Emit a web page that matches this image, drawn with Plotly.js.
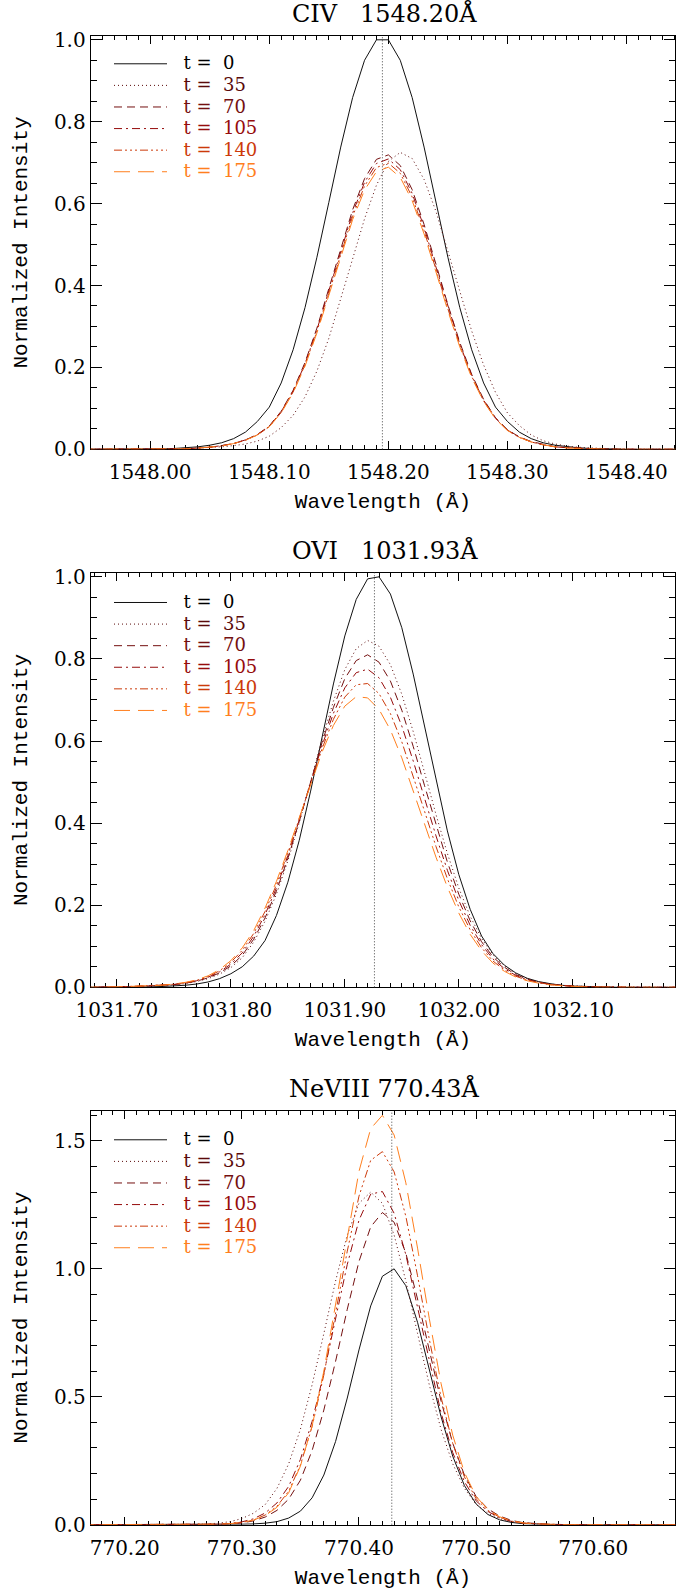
<!DOCTYPE html>
<html>
<head>
<meta charset="utf-8">
<script src="https://cdn.plot.ly/plotly-3.0.1.min.js"></script>
<style>
html,body{margin:0;padding:0;background:#fff;}
#chart{width:696px;height:1591px;}
</style>
</head>
<body>
<div id="chart"></div>
<script>
// ---------- data ----------
const timeLabels = ['t = 0', 't = 35', 't = 70', 't = 105', 't = 140', 't = 175'];
const seriesColors = ['#000000', '#5a0a0a', '#741010', '#960c0c', '#cc3a0a', '#ff7f1e'];
const panelTitles = ['CIV\u00a0\u00a0\u00a01548.20Å', 'OVI\u00a0\u00a0\u00a01031.93Å', 'NeVIII\u00a0770.43Å'];
const lineCenters = [1548.195, 1031.926, 770.428];

const civTicks = [1548.00, 1548.10, 1548.20, 1548.30, 1548.40];
const oviTicks = [1031.70, 1031.80, 1031.90, 1032.00, 1032.10];
const neTicks = [770.20, 770.30, 770.40, 770.50, 770.60];

const waveCIV = [1547.94,1547.95,1547.96,1547.97,1547.98,1547.99,1548.00,1548.01,1548.02,1548.03,
  1548.04,1548.05,1548.06,1548.07,1548.08,1548.09,1548.10,1548.11,1548.12,1548.13,
  1548.14,1548.15,1548.16,1548.17,1548.18,1548.19,1548.20,1548.21,1548.22,1548.23,
  1548.24,1548.25,1548.26,1548.27,1548.28,1548.29,1548.30,1548.31,1548.32,1548.33,
  1548.34,1548.35,1548.36,1548.37,1548.38,1548.39,1548.40,1548.41,1548.42,1548.43,
  1548.44,1548.45];
const civ_t0 = [0,0,0,0,0,0,0,0.001,0.002,0.0035,0.006,0.010,0.016,0.026,0.042,0.068,0.103,0.162,0.243,0.346,
  0.469,0.603,0.738,0.859,0.950,1.0,1.0,0.950,0.859,0.738,0.603,0.469,0.346,0.243,0.162,0.103,0.068,0.042,0.026,0.016,
  0.010,0.006,0.0035,0.002,0.001,0,0,0,0,0,0,0];
const civ_t35 = [0,0,0,0,0,0,0,0,0.001,0.002,0.003,0.004,0.006,0.009,0.013,0.020,0.032,0.053,0.083,0.128,
  0.191,0.271,0.365,0.465,0.563,0.645,0.703,0.725,0.710,0.659,0.581,0.485,0.384,0.289,0.206,0.139,0.089,0.058,0.035,0.021,
  0.013,0.008,0.005,0.003,0.002,0.001,0,0,0,0,0,0];
const civ_t70 = [0,0,0,0,0,0,0,0,0.001,0.001,0.003,0.005,0.009,0.014,0.023,0.036,0.057,0.093,0.144,0.212,
  0.296,0.392,0.492,0.585,0.661,0.708,0.719,0.693,0.634,0.549,0.452,0.353,0.261,0.183,0.122,0.077,0.048,0.030,0.019,0.012,
  0.006,0.004,0.002,0.001,0.001,0,0,0,0,0,0,0];
const civ_t105 = [0,0,0,0,0,0,0,0,0.001,0.001,0.003,0.005,0.009,0.014,0.023,0.036,0.056,0.092,0.142,0.209,
  0.292,0.386,0.485,0.577,0.652,0.698,0.709,0.683,0.625,0.542,0.445,0.348,0.257,0.180,0.120,0.076,0.047,0.030,0.018,0.011,
  0.006,0.004,0.002,0.001,0,0,0,0,0,0,0,0];
const civ_t140 = [0,0,0,0,0,0,0,0,0.001,0.001,0.003,0.005,0.008,0.014,0.022,0.035,0.055,0.090,0.140,0.206,
  0.288,0.381,0.478,0.569,0.643,0.688,0.699,0.674,0.616,0.534,0.439,0.343,0.254,0.178,0.118,0.075,0.046,0.029,0.018,0.011,
  0.006,0.004,0.002,0.001,0,0,0,0,0,0,0,0];
const civ_t175 = [0,0,0,0,0,0,0,0,0.001,0.001,0.003,0.005,0.008,0.014,0.022,0.035,0.055,0.089,0.138,0.203,
  0.284,0.376,0.471,0.561,0.633,0.678,0.689,0.664,0.607,0.526,0.433,0.338,0.250,0.175,0.117,0.074,0.046,0.029,0.018,0.011,
  0.006,0.003,0.002,0.001,0,0,0,0,0,0,0,0];

const waveOVI = [1031.67,1031.68,1031.69,1031.70,1031.71,1031.72,1031.73,1031.74,1031.75,1031.76,
  1031.77,1031.78,1031.79,1031.80,1031.81,1031.82,1031.83,1031.84,1031.85,1031.86,
  1031.87,1031.88,1031.89,1031.90,1031.91,1031.92,1031.93,1031.94,1031.95,1031.96,
  1031.97,1031.98,1031.99,1032.00,1032.01,1032.02,1032.03,1032.04,1032.05,1032.06,
  1032.07,1032.08,1032.09,1032.10,1032.11,1032.12,1032.13,1032.14,1032.15,1032.16,
  1032.17,1032.18,1032.19,1032.20];
const ovi_t0 = [0,0,0,0,0,0.0005,0.001,0.002,0.003,0.005,0.008,0.013,0.021,0.033,0.050,0.076,0.114,0.175,0.256,0.358,
  0.478,0.609,0.739,0.856,0.945,0.995,1.000,0.958,0.876,0.763,0.635,0.504,0.381,0.275,0.190,0.125,0.082,0.054,0.035,0.022,
  0.014,0.009,0.005,0.003,0.002,0.001,0,0,0,0,0,0,0,0];
const ovi_t35 = [0,0,0.0005,0.001,0.001,0.002,0.003,0.004,0.006,0.009,0.014,0.021,0.032,0.048,0.072,0.110,0.161,0.227,0.308,0.401,
  0.502,0.604,0.697,0.774,0.825,0.845,0.831,0.786,0.714,0.623,0.523,0.421,0.326,0.242,0.173,0.119,0.079,0.052,0.033,0.021,
  0.013,0.008,0.005,0.003,0.002,0.001,0.0005,0,0,0,0,0,0,0];
const ovi_t70 = [0,0,0.0005,0.001,0.001,0.002,0.003,0.004,0.0065,0.010,0.015,0.023,0.035,0.052,0.078,0.117,0.169,0.235,0.314,0.404,
  0.500,0.596,0.682,0.752,0.796,0.810,0.792,0.746,0.675,0.587,0.491,0.395,0.305,0.227,0.162,0.111,0.074,0.049,0.031,0.020,
  0.012,0.0075,0.005,0.003,0.002,0.001,0.0005,0,0,0,0,0,0,0];
const ovi_t105 = [0,0,0.0005,0.001,0.0015,0.0025,0.0035,0.0045,0.007,0.0105,0.016,0.0245,0.0375,0.0565,0.084,0.124,0.177,0.2425,0.3205,0.4075,
  0.499,0.5885,0.6675,0.7295,0.7665,0.775,0.754,0.7065,0.6365,0.5515,0.460,0.369,0.285,0.2115,0.151,0.104,0.069,0.0455,0.029,0.0185,
  0.0115,0.007,0.0045,0.0025,0.0015,0.001,0.0003,0,0,0,0,0,0,0];
const ovi_t140 = [0,0,0.0005,0.001,0.002,0.003,0.004,0.005,0.0075,0.011,0.017,0.026,0.040,0.061,0.090,0.131,0.185,0.250,0.327,0.411,
  0.4975,0.581,0.653,0.707,0.737,0.740,0.7155,0.667,0.598,0.516,0.4285,0.343,0.2645,0.196,0.140,0.0965,0.064,0.042,0.027,0.017,
  0.011,0.0065,0.004,0.002,0.001,0.0005,0,0,0,0,0,0,0,0];
const ovi_t175 = [0,0,0.0005,0.001,0.002,0.003,0.004,0.005,0.008,0.012,0.018,0.028,0.043,0.065,0.096,0.138,0.193,0.258,0.333,0.414,
  0.496,0.573,0.638,0.685,0.708,0.705,0.677,0.627,0.559,0.480,0.397,0.317,0.244,0.181,0.129,0.089,0.059,0.039,0.025,0.016,
  0.010,0.006,0.004,0.002,0.001,0.0005,0,0,0,0,0,0,0,0];

const waveNeVIII = [770.16,770.17,770.18,770.19,770.20,770.21,770.22,770.23,770.24,770.25,
  770.26,770.27,770.28,770.29,770.30,770.31,770.32,770.33,770.34,770.35,
  770.36,770.37,770.38,770.39,770.40,770.41,770.42,770.43,770.44,770.45,
  770.46,770.47,770.48,770.49,770.50,770.51,770.52,770.53,770.54,770.55,
  770.56,770.57,770.58,770.59,770.60,770.61,770.62,770.63,770.64,770.65,
  770.66,770.67,770.68];
const ne_t0 = [0,0,0,0,0,0,0,0,0,0,0,0,0,0.001,0.002,0.003,0.006,0.012,0.026,0.053,
  0.105,0.194,0.325,0.495,0.683,0.855,0.971,1.000,0.934,0.791,0.608,0.423,0.268,0.153,0.081,0.040,0.019,0.009,0.004,0.002,
  0.001,0,0,0,0,0,0,0,0,0,0,0,0];
const ne_t35 = [0,0,0,0,0,0,0,0,0,0.0007,0.0015,0.003,0.006,0.012,0.024,0.045,0.079,0.142,0.238,0.373,
  0.547,0.747,0.952,1.132,1.256,1.300,1.256,1.132,0.952,0.747,0.547,0.373,0.238,0.142,0.079,0.045,0.024,0.012,0.006,0.003,
  0.0015,0.0007,0,0,0,0,0,0,0,0,0,0,0];
const ne_t70 = [0,0,0,0,0,0,0,0,0,0,0,0.0007,0.0015,0.003,0.007,0.015,0.030,0.056,0.100,0.174,
  0.290,0.448,0.638,0.842,1.029,1.164,1.220,1.182,1.061,0.882,0.679,0.484,0.319,0.194,0.110,0.062,0.034,0.017,0.008,0.004,
  0.002,0.001,0,0,0,0,0,0,0,0,0,0,0];
const ne_t105 = [0,0,0,0,0,0,0,0,0,0,0,0.001,0.002,0.005,0.011,0.023,0.046,0.085,0.150,0.255,
  0.404,0.592,0.806,1.017,1.190,1.292,1.302,1.217,1.055,0.848,0.634,0.438,0.282,0.168,0.093,0.052,0.027,0.013,0.006,0.003,
  0.0015,0.0007,0,0,0,0,0,0,0,0,0,0,0];
const ne_t140 = [0,0,0,0,0,0,0,0,0,0,0,0.001,0.002,0.004,0.009,0.018,0.038,0.072,0.131,0.233,
  0.384,0.585,0.824,1.069,1.284,1.424,1.458,1.379,1.205,0.973,0.725,0.499,0.318,0.187,0.101,0.056,0.029,0.014,0.007,0.003,
  0.0015,0.0007,0,0,0,0,0,0,0,0,0,0,0];
const ne_t175 = [0,0,0,0,0,0,0,0,0,0,0,0.001,0.002,0.004,0.009,0.018,0.036,0.068,0.125,0.229,
  0.386,0.600,0.861,1.135,1.381,1.548,1.600,1.523,1.336,1.081,0.806,0.553,0.350,0.204,0.110,0.060,0.031,0.015,0.007,0.003,
  0.0015,0.0007,0,0,0,0,0,0,0,0,0,0,0];

// ---------- styling ----------
const dashes = ['solid', '1px,3px', '8px,5px', '8px,4px,2px,4px', '8px,3px,2px,3px,2px,3px,2px,3px', '16px,8px'];
const lineColors = ['#111111', '#5a0a0a', '#741010', '#960c0c', '#cc3a0a', '#ff7f1e'];
const SERIF = 'DejaVu Serif, Liberation Serif, serif';
const MONO = 'Liberation Mono, DejaVu Sans Mono, monospace';

const panels = [
  {wave: waveCIV, series: [civ_t0, civ_t35, civ_t70, civ_t105, civ_t140, civ_t175], ticks: civTicks},
  {wave: waveOVI, series: [ovi_t0, ovi_t35, ovi_t70, ovi_t105, ovi_t140, ovi_t175], ticks: oviTicks},
  {wave: waveNeVIII, series: [ne_t0, ne_t35, ne_t70, ne_t105, ne_t140, ne_t175], ticks: neTicks}
];

// layout geometry (pixels in a 696 x 1591 page)
const W = 696, H = 1591;
const xL = 90.7, xR = 675.3;
const tops = [35.7, 572.7, 1110.7], bottoms = [449.3, 987.3, 1524.7];
const xRanges = [[1547.950, 1548.441], [1031.677, 1032.190], [770.171, 770.670]];
const yRanges = [[0, 1.01], [0, 1.01], [0, 1.618]];
const yDt = [0.2, 0.2, 0.5], yMinor = [0.05, 0.05, 0.1];
const legendFirst = [63, 601.7, 1139];

function legendText(label) {
  // widen the gaps around "=" as in the original figure
  return label.replace(' = ', ' =\u00a0\u00a0');
}

const traces = [];
const layout = {
  width: W, height: H,
  margin: {l: 0, r: 0, t: 0, b: 0},
  paper_bgcolor: '#fff', plot_bgcolor: '#fff',
  showlegend: true,
  annotations: [], shapes: []
};

panels.forEach((p, k) => {
  const sfx = k === 0 ? '' : String(k + 1);
  const legName = 'legend' + sfx;
  p.series.forEach((ys, j) => {
    traces.push({
      type: 'scatter', mode: 'lines',
      x: p.wave, y: ys,
      xaxis: 'x' + sfx, yaxis: 'y' + sfx,
      legend: legName,
      name: '<span style="color:' + seriesColors[j] + ';font-size:18px">\u00a0\u00a0' + legendText(timeLabels[j]) + '</span>',
      line: {color: lineColors[j], width: 1, dash: dashes[j]},
      hoverinfo: 'skip'
    });
  });
  const dom = [1 - bottoms[k] / H, 1 - tops[k] / H];
  layout['xaxis' + sfx] = {
    domain: [xL / W, xR / W], anchor: 'y' + sfx,
    range: xRanges[k], tickvals: p.ticks, tickformat: '.2f',
    ticks: 'inside', ticklen: 8, tickwidth: 1, tickcolor: '#000',
    minor: {dtick: 0.01, tick0: p.ticks[0], ticks: 'inside', ticklen: 4, tickcolor: '#000', tickwidth: 1},
    showline: true, linecolor: '#000', linewidth: 1, mirror: 'ticks',
    showgrid: false, zeroline: false, layer: 'below traces',
    ticklabelstandoff: 5,
    tickfont: {family: SERIF, size: 20, color: '#000'},
    title: {text: 'Wavelength (Å)', font: {family: MONO, size: 21, color: '#000'}, standoff: 10}
  };
  layout['yaxis' + sfx] = {
    domain: dom, anchor: 'x' + sfx,
    range: yRanges[k], dtick: yDt[k], tick0: 0, tickformat: '.1f',
    ticks: 'inside', ticklen: 11, tickwidth: 1, tickcolor: '#000',
    minor: {dtick: yMinor[k], tick0: 0, ticks: 'inside', ticklen: 6, tickcolor: '#000', tickwidth: 1},
    showline: true, linecolor: '#000', linewidth: 1, mirror: 'ticks',
    showgrid: false, zeroline: false, layer: 'below traces',
    tickfont: {family: SERIF, size: 20, color: '#000'},
    title: {text: 'Normalized Intensity', font: {family: MONO, size: 21, color: '#000'}, standoff: 20}
  };
  layout[legName] = {
    x: (114 - 5) / W, y: 1 - (legendFirst[k] - 15) / H,
    xanchor: 'left', yanchor: 'top',
    bgcolor: 'rgba(0,0,0,0)', borderwidth: 0,
    font: {family: SERIF, size: 14.3, color: '#000'},
    itemwidth: 53, tracegroupgap: 0
  };
  layout.annotations.push({
    text: panelTitles[k], xref: 'paper', yref: 'paper',
    x: 385 / W, y: 1 - (tops[k] - 22) / H,
    xanchor: 'center', yanchor: 'middle', showarrow: false,
    font: {family: SERIF, size: 24, color: '#000'}
  });
  layout.shapes.push({
    type: 'line', xref: 'x' + sfx, yref: 'y' + sfx + ' domain',
    x0: lineCenters[k], x1: lineCenters[k], y0: 0, y1: 1,
    line: {color: '#444', width: 1, dash: '1px,2px'}
  });
});

Plotly.newPlot('chart', traces, layout, {staticPlot: true, displayModeBar: false});
</script>
</body>
</html>
